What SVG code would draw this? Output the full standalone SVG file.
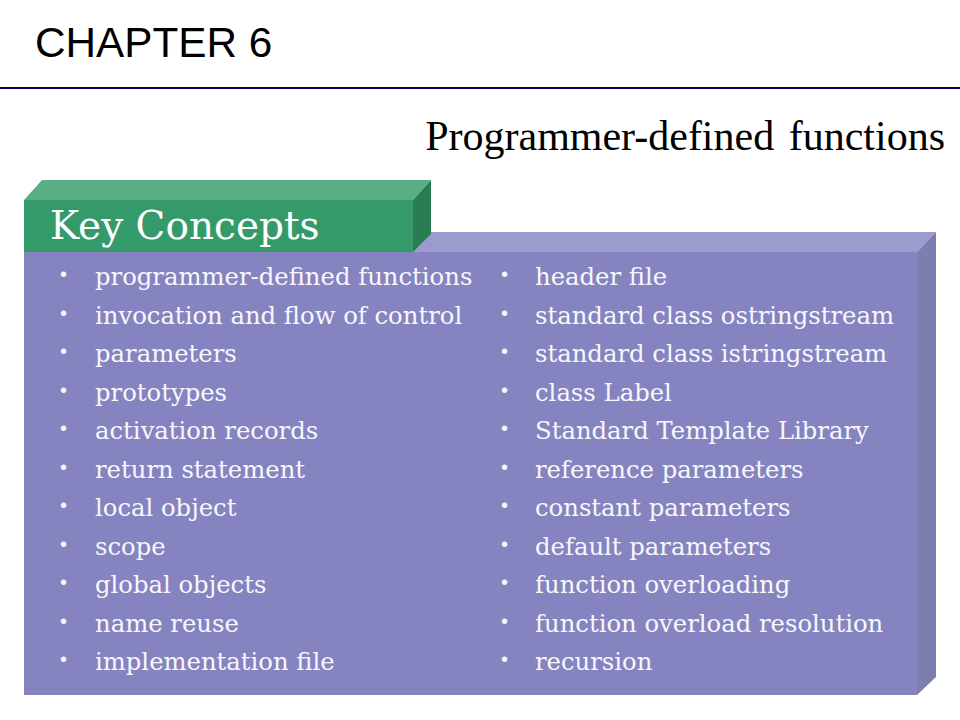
<svg xmlns="http://www.w3.org/2000/svg" width="960" height="720" viewBox="0 0 960 720">
<style>
.item{font-family:"DejaVu Serif","Liberation Serif",serif;font-size:24.3px;fill:#f7f7fb}
.bul{font-family:"Liberation Sans",Arial,sans-serif;font-size:20px;fill:#f7f7fb}
</style>
<rect width="960" height="720" fill="#ffffff"/>
<g id="header">
<text x="35" y="57" font-family="Liberation Sans, Arial, sans-serif" font-size="42.3" fill="#000000">CHAPTER 6</text>
<line x1="0" y1="88" x2="960" y2="88" stroke="#000066" stroke-width="2"/>
</g>
<g id="subtitle">
<text x="945" y="150" text-anchor="end" font-family="Liberation Serif, Times New Roman, serif" font-size="42" word-spacing="4" fill="#000000">Programmer-defined functions</text>
</g>
<g id="purple-box">
<polygon points="24,252 413,252 413,232 936,232 917,252 24,252" fill="#9c9bcf"/>
<polygon points="917,252 936,232 936,677 917,695" fill="#7e7db0"/>
<rect x="24" y="252" width="893" height="443" fill="#8584c0"/>
</g>
<g id="green-tab">
<polygon points="24,200 42,180 431,180 413,200" fill="#5aae85"/>
<polygon points="413,200 431,180 431,234 413,252" fill="#2a7d52"/>
<rect x="24" y="200" width="389" height="52" fill="#359a69"/>
<text x="50" y="239" font-family="DejaVu Serif, Liberation Serif, serif" font-size="39" fill="#ffffff">Key Concepts</text>
</g>
<g id="left-list">
<text class="bul" x="60" y="281">•</text><text class="item" x="95" y="285">programmer-defined functions</text>
<text class="bul" x="60" y="319.5">•</text><text class="item" x="95" y="323.5">invocation and flow of control</text>
<text class="bul" x="60" y="358">•</text><text class="item" x="95" y="362">parameters</text>
<text class="bul" x="60" y="396.5">•</text><text class="item" x="95" y="400.5">prototypes</text>
<text class="bul" x="60" y="435">•</text><text class="item" x="95" y="439">activation records</text>
<text class="bul" x="60" y="473.5">•</text><text class="item" x="95" y="477.5">return statement</text>
<text class="bul" x="60" y="512">•</text><text class="item" x="95" y="516">local object</text>
<text class="bul" x="60" y="550.5">•</text><text class="item" x="95" y="554.5">scope</text>
<text class="bul" x="60" y="589">•</text><text class="item" x="95" y="593">global objects</text>
<text class="bul" x="60" y="627.5">•</text><text class="item" x="95" y="631.5">name reuse</text>
<text class="bul" x="60" y="666">•</text><text class="item" x="95" y="670">implementation file</text>
</g>
<g id="right-list">
<text class="bul" x="501" y="281">•</text><text class="item" x="535" y="285">header file</text>
<text class="bul" x="501" y="319.5">•</text><text class="item" x="535" y="323.5">standard class ostringstream</text>
<text class="bul" x="501" y="358">•</text><text class="item" x="535" y="362">standard class istringstream</text>
<text class="bul" x="501" y="396.5">•</text><text class="item" x="535" y="400.5">class Label</text>
<text class="bul" x="501" y="435">•</text><text class="item" x="535" y="439">Standard Template Library</text>
<text class="bul" x="501" y="473.5">•</text><text class="item" x="535" y="477.5">reference parameters</text>
<text class="bul" x="501" y="512">•</text><text class="item" x="535" y="516">constant parameters</text>
<text class="bul" x="501" y="550.5">•</text><text class="item" x="535" y="554.5">default parameters</text>
<text class="bul" x="501" y="589">•</text><text class="item" x="535" y="593">function overloading</text>
<text class="bul" x="501" y="627.5">•</text><text class="item" x="535" y="631.5">function overload resolution</text>
<text class="bul" x="501" y="666">•</text><text class="item" x="535" y="670">recursion</text>
</g>
</svg>
